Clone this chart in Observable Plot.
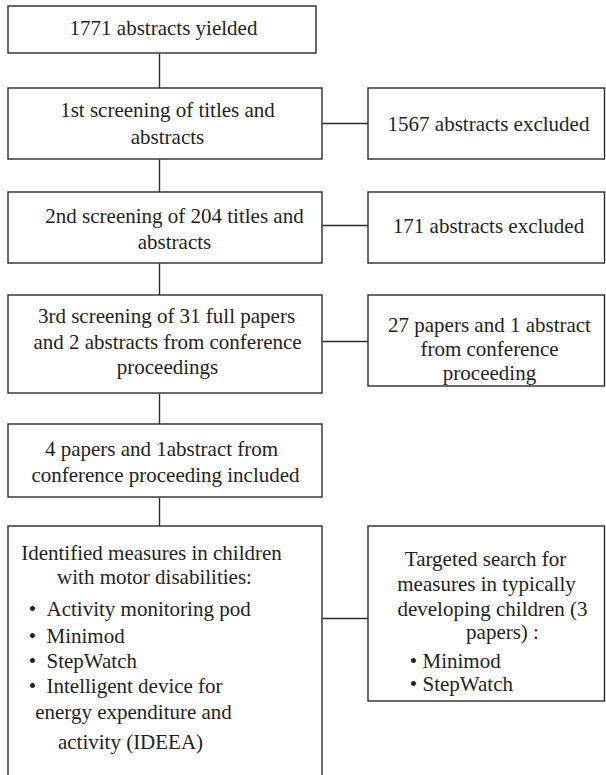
<!DOCTYPE html>
<html>
<head>
<meta charset="utf-8">
<script src="https://cdn.jsdelivr.net/npm/d3@7"></script>
<script src="https://cdn.jsdelivr.net/npm/@observablehq/plot@0.6"></script>
<style>
  html, body { margin: 0; padding: 0; background: #fff; overflow: hidden; }
  #chart svg { display: block; }
</style>
</head>
<body>
<div id="chart"></div>
<script>
// ---- Content ----
const mainBoxes = [
  ["1771 abstracts yielded"],
  ["1st screening of titles and", "abstracts"],
  ["2nd screening of 204 titles and", "abstracts"],
  ["3rd screening of 31 full papers", "and 2 abstracts from conference", "proceedings"],
  ["4 papers and 1abstract from", "conference proceeding included"],
  ["Identified measures in children", "with motor disabilities:"]
];
const sideBoxes = [
  ["1567 abstracts excluded"],
  ["171 abstracts excluded"],
  ["27 papers and 1 abstract", "from conference", "proceeding"],
  ["Targeted search for", "measures in typically", "developing children (3", "papers) :"]
];
const motorMeasures = ["Activity monitoring pod", "Minimod", "StepWatch", "Intelligent device for"];
const motorContinuation = ["energy expenditure and", "activity (IDEEA)"];
const typicalMeasures = ["Minimod", "StepWatch"];

// ---- Layout (pixel geometry of the diagram) ----
const W = 606, H = 775;
const FS = 21;
const mainLayout = [
  {x1: 8, x2: 316, y1: 6,   y2: 53,  cx: [163],           base: [34]},
  {x1: 8, x2: 322, y1: 88,  y2: 159, cx: [167, 167],      base: [116, 143]},
  {x1: 8, x2: 322, y1: 192, y2: 263, cx: [174, 174],      base: [222, 248]},
  {x1: 8, x2: 322, y1: 295, y2: 393, cx: [166, 167, 167], base: [322, 348, 373]},
  {x1: 8, x2: 322, y1: 424, y2: 497, cx: [161, 165],      base: [455, 481]},
  {x1: 8, x2: 322, y1: 526, y2: 800, cx: [151, 154],      base: [559, 583]}
];
const sideLayout = [
  {y1: 88,  y2: 159, cx: [488],                base: [130],                link: 123},
  {y1: 192, y2: 263, cx: [488],                base: [232],                link: 225},
  {y1: 295, y2: 386, cx: [489, 489, 489],      base: [331, 355, 379],      link: 341},
  {y1: 526, y2: 701, cx: [485, 486, 492, 502], base: [565, 590, 615, 638], link: 618}
];
const sideX1 = 368, sideX2 = 604.5, spineX = 159;
const motorBullet = {bx: 32, tx: 46, base: [615, 642, 667, 692], cont: [{cx: 133, base: 718}, {cx: 130, base: 748}]};
const typicalBullet = {bx: 413, tx: 422, base: [667, 690]};

// ---- Build tables ----
const boxes = [
  ...mainLayout.map(d => ({x1: d.x1, x2: d.x2, y1: d.y1, y2: d.y2})),
  ...sideLayout.map(d => ({x1: sideX1, x2: sideX2, y1: d.y1, y2: d.y2}))
];
const links = [];
for (let i = 0; i < mainLayout.length - 1; i++) {
  links.push({x1: spineX, y1: mainLayout[i].y2, x2: spineX, y2: mainLayout[i + 1].y1});
}
const sideTargets = [1, 2, 3, 5];
sideLayout.forEach((s, i) => {
  links.push({x1: mainLayout[sideTargets[i]].x2, y1: s.link, x2: sideX1, y2: s.link});
});

const texts = [];
mainBoxes.forEach((lines, i) => lines.forEach((t, j) =>
  texts.push({text: t, x: mainLayout[i].cx[j], y: mainLayout[i].base[j], anchor: "middle"})));
sideBoxes.forEach((lines, i) => lines.forEach((t, j) =>
  texts.push({text: t, x: sideLayout[i].cx[j], y: sideLayout[i].base[j], anchor: "middle"})));
motorMeasures.forEach((t, j) => {
  texts.push({text: "•", x: motorBullet.bx, y: motorBullet.base[j], anchor: "middle"});
  texts.push({text: t, x: motorBullet.tx, y: motorBullet.base[j], anchor: "start"});
});
motorContinuation.forEach((t, j) =>
  texts.push({text: t, x: motorBullet.cont[j].cx, y: motorBullet.cont[j].base, anchor: "middle"}));
typicalMeasures.forEach((t, j) => {
  texts.push({text: "•", x: typicalBullet.bx, y: typicalBullet.base[j], anchor: "middle"});
  texts.push({text: t, x: typicalBullet.tx, y: typicalBullet.base[j], anchor: "start"});
});

const ink = "#231f20";
const lineCol = "#2b2b2b";
const font = "'Liberation Serif', 'Times New Roman', serif";

const chart = Plot.plot({
  width: W,
  height: H,
  margin: 0,
  x: {domain: [0, W], range: [0, W], axis: null},
  y: {domain: [0, H], range: [0, H], axis: null},
  style: {background: "#fff", overflow: "hidden"},
  marks: [
    Plot.link(links, {x1: "x1", y1: "y1", x2: "x2", y2: "y2", stroke: lineCol, strokeWidth: 1.4}),
    Plot.rect(boxes, {x1: "x1", x2: "x2", y1: "y1", y2: "y2", fill: "#fff", stroke: lineCol, strokeWidth: 1.4, clip: true}),
    Plot.text(texts.filter(d => d.anchor === "middle"), {
      x: "x", y: "y", text: "text", textAnchor: "middle", lineAnchor: "bottom",
      fontSize: FS, fontFamily: font, fill: ink
    }),
    Plot.text(texts.filter(d => d.anchor === "start"), {
      x: "x", y: "y", text: "text", textAnchor: "start", lineAnchor: "bottom",
      fontSize: FS, fontFamily: font, fill: ink
    })
  ]
});
document.getElementById("chart").appendChild(chart);
</script>
</body>
</html>
